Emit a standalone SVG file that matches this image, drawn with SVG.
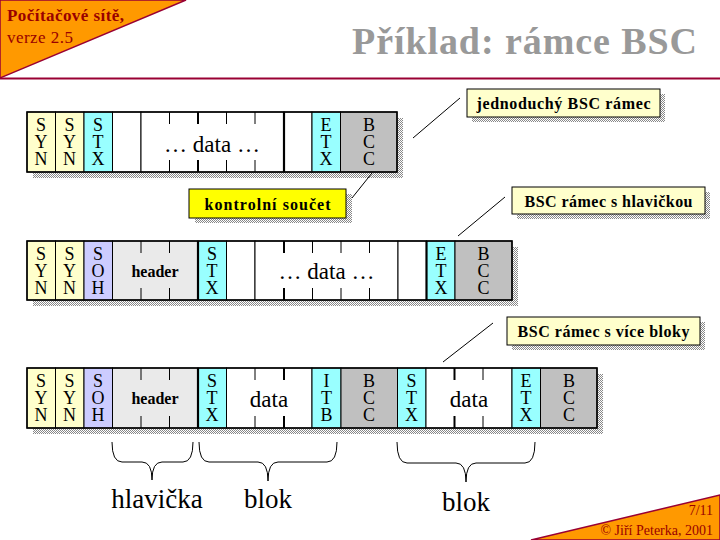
<svg xmlns="http://www.w3.org/2000/svg" width="720" height="540" viewBox="0 0 720 540">
<defs>
<pattern id="dither" width="2" height="2" patternUnits="userSpaceOnUse">
<rect width="2" height="2" fill="#ffffff"/>
<rect width="1" height="1" fill="#888888"/>
<rect x="1" y="1" width="1" height="1" fill="#888888"/>
</pattern>
</defs>
<style>
.cell{stroke:#000;stroke-width:1}
.syn{fill:#ffffcc}
.stx{fill:#99ffff}
.soh{fill:#ccccff}
.hdr{fill:#eaeaea}
.bcc{fill:#c0c0c0}
.wh{fill:#ffffff}
.frame{fill:none;stroke:#000;stroke-width:1.5}
.thick{stroke:#000;stroke-width:2.2}
.tick{stroke:#000;stroke-width:1}
.shadow{fill:url(#dither)}
.lt{font-family:"Liberation Serif","Times New Roman",serif;font-size:18px;fill:#000;text-anchor:middle}
.dt{font-family:"Liberation Serif","Times New Roman",serif;font-size:23px;fill:#000;text-anchor:middle}
.ht{font-family:"Liberation Serif","Times New Roman",serif;font-size:16px;font-weight:bold;fill:#000;text-anchor:middle}
.ct{font-family:"Liberation Serif","Times New Roman",serif;font-size:16px;font-weight:bold;fill:#000;text-anchor:middle}
.cb{fill:#ffffcc;stroke:#000;stroke-width:1}
.bl{font-family:"Liberation Serif","Times New Roman",serif;font-size:27px;fill:#000;text-anchor:middle}
.conn{stroke:#000;stroke-width:1;fill:none}
.corner{font-family:"Liberation Serif","Times New Roman",serif;font-size:17px;fill:#990000}
.foot{font-family:"Liberation Serif","Times New Roman",serif;font-size:14px;fill:#990000;text-anchor:end}
</style>
<rect width="720" height="540" fill="#ffffff"/>

<g id="header-corner">
<polygon points="0,0 186,0 0,78" fill="#ff9900" stroke="#990033" stroke-width="1.5"/>
<text class="corner" x="7" y="21" font-weight="bold" textLength="117">Počítačové sítě,</text>
<text class="corner" x="7" y="43" textLength="66">verze 2.5</text>
</g>
<line x1="0" y1="78.5" x2="720" y2="78.5" stroke="#990033" stroke-width="2"/>
<text id="title" x="697" y="54" text-anchor="end" textLength="345" font-family="'Liberation Serif','Times New Roman',serif" font-weight="bold" font-size="38" fill="#999999">Příklad: rámce BSC</text>

<!-- Frame 1 -->
<g id="frame1">
<rect class="shadow" x="33" y="118" width="370" height="60"/>
<rect class="cell syn" x="27" y="112" width="28.5" height="60"/>
<rect class="cell syn" x="55.5" y="112" width="28.5" height="60"/>
<rect class="cell stx" x="84" y="112" width="28.5" height="60"/>
<rect class="cell wh" x="112.5" y="112" width="28.5" height="60"/>
<rect class="cell wh" x="141" y="112" width="143" height="60"/>
<rect class="cell wh" x="284" y="112" width="28" height="60"/>
<rect class="cell stx" x="312" y="112" width="28.5" height="60"/>
<rect class="cell bcc" x="340.5" y="112" width="56.5" height="60"/>
<line class="thick" x1="284" y1="112" x2="284" y2="172"/>
<g class="tick">
<line x1="169.5" y1="112" x2="169.5" y2="124"/><line x1="169.5" y1="160" x2="169.5" y2="172"/>
<line x1="198" y1="112" x2="198" y2="124" stroke-width="2"/><line x1="198" y1="160" x2="198" y2="172" stroke-width="2"/>
<line x1="226.5" y1="112" x2="226.5" y2="124"/><line x1="226.5" y1="160" x2="226.5" y2="172"/>
<line x1="255" y1="112" x2="255" y2="124"/><line x1="255" y1="160" x2="255" y2="172"/>
</g>
<rect class="frame" x="27" y="112" width="370" height="60"/>
<text class="lt"><tspan x="41" y="131">S</tspan><tspan x="41" y="148">Y</tspan><tspan x="41" y="165">N</tspan></text>
<text class="lt"><tspan x="69.5" y="131">S</tspan><tspan x="69.5" y="148">Y</tspan><tspan x="69.5" y="165">N</tspan></text>
<text class="lt"><tspan x="98" y="131">S</tspan><tspan x="98" y="148">T</tspan><tspan x="98" y="165">X</tspan></text>
<text class="dt" x="212" y="152">… data …</text>
<text class="lt"><tspan x="326" y="131">E</tspan><tspan x="326" y="148">T</tspan><tspan x="326" y="165">X</tspan></text>
<text class="lt"><tspan x="369" y="131">B</tspan><tspan x="369" y="148">C</tspan><tspan x="369" y="165">C</tspan></text>
</g>

<!-- Frame 2 -->
<g id="frame2">
<rect class="shadow" x="33" y="247" width="485" height="59"/>
<rect class="cell syn" x="27" y="241" width="28.5" height="59"/>
<rect class="cell syn" x="55.5" y="241" width="28.5" height="59"/>
<rect class="cell soh" x="84" y="241" width="28.5" height="59"/>
<rect class="cell hdr" x="112.5" y="241" width="85.5" height="59"/>
<rect class="cell stx" x="198" y="241" width="28.5" height="59"/>
<rect class="cell wh" x="226.5" y="241" width="28.5" height="59"/>
<rect class="cell wh" x="255" y="241" width="143" height="59"/>
<rect class="cell wh" x="398" y="241" width="28.5" height="59"/>
<rect class="cell stx" x="426.5" y="241" width="28.5" height="59"/>
<rect class="cell bcc" x="455" y="241" width="57" height="59"/>
<line class="thick" x1="198" y1="241" x2="198" y2="300"/>
<line class="thick" x1="426.5" y1="241" x2="426.5" y2="300"/>
<g class="tick">
<line x1="141" y1="241" x2="141" y2="253"/><line x1="141" y1="288" x2="141" y2="300"/>
<line x1="169.5" y1="241" x2="169.5" y2="253"/><line x1="169.5" y1="288" x2="169.5" y2="300"/>
<line x1="284" y1="241" x2="284" y2="253" stroke-width="2"/><line x1="284" y1="288" x2="284" y2="300" stroke-width="2"/>
<line x1="312.5" y1="241" x2="312.5" y2="253"/><line x1="312.5" y1="288" x2="312.5" y2="300"/>
<line x1="341" y1="241" x2="341" y2="253"/><line x1="341" y1="288" x2="341" y2="300"/>
<line x1="369.5" y1="241" x2="369.5" y2="253"/><line x1="369.5" y1="288" x2="369.5" y2="300"/>
</g>
<rect class="frame" x="27" y="241" width="485" height="59"/>
<text class="lt"><tspan x="41" y="260">S</tspan><tspan x="41" y="277">Y</tspan><tspan x="41" y="294">N</tspan></text>
<text class="lt"><tspan x="69.5" y="260">S</tspan><tspan x="69.5" y="277">Y</tspan><tspan x="69.5" y="294">N</tspan></text>
<text class="lt"><tspan x="98" y="260">S</tspan><tspan x="98" y="277">O</tspan><tspan x="98" y="294">H</tspan></text>
<text class="ht" x="155" y="277">header</text>
<text class="lt"><tspan x="212" y="260">S</tspan><tspan x="212" y="277">T</tspan><tspan x="212" y="294">X</tspan></text>
<text class="dt" x="326.5" y="279">… data …</text>
<text class="lt"><tspan x="441" y="260">E</tspan><tspan x="441" y="277">T</tspan><tspan x="441" y="294">X</tspan></text>
<text class="lt"><tspan x="483.5" y="260">B</tspan><tspan x="483.5" y="277">C</tspan><tspan x="483.5" y="294">C</tspan></text>
</g>

<!-- Frame 3 -->
<g id="frame3">
<rect class="shadow" x="33" y="374" width="570" height="60"/>
<rect class="cell syn" x="27" y="368" width="28.5" height="60"/>
<rect class="cell syn" x="55.5" y="368" width="28.5" height="60"/>
<rect class="cell soh" x="84" y="368" width="28.5" height="60"/>
<rect class="cell hdr" x="112.5" y="368" width="85.5" height="60"/>
<rect class="cell stx" x="198" y="368" width="28.5" height="60"/>
<rect class="cell wh" x="226.5" y="368" width="85.5" height="60"/>
<rect class="cell stx" x="312" y="368" width="29" height="60"/>
<rect class="cell bcc" x="341" y="368" width="56.5" height="60"/>
<rect class="cell stx" x="397.5" y="368" width="28.5" height="60"/>
<rect class="cell wh" x="426" y="368" width="86" height="60"/>
<rect class="cell stx" x="512" y="368" width="28.5" height="60"/>
<rect class="cell bcc" x="540.5" y="368" width="56.5" height="60"/>
<line class="thick" x1="198" y1="368" x2="198" y2="428"/>
<g class="tick">
<line x1="141" y1="368" x2="141" y2="380"/><line x1="141" y1="416" x2="141" y2="428"/>
<line x1="169.5" y1="368" x2="169.5" y2="380"/><line x1="169.5" y1="416" x2="169.5" y2="428"/>
<line x1="255" y1="368" x2="255" y2="380"/><line x1="255" y1="416" x2="255" y2="428"/>
<line x1="284" y1="368" x2="284" y2="380" stroke-width="2"/><line x1="284" y1="416" x2="284" y2="428" stroke-width="2"/>
<line x1="454.5" y1="368" x2="454.5" y2="380" stroke-width="2"/><line x1="454.5" y1="416" x2="454.5" y2="428" stroke-width="2"/>
<line x1="483" y1="368" x2="483" y2="380"/><line x1="483" y1="416" x2="483" y2="428"/>
</g>
<rect class="frame" x="27" y="368" width="570" height="60"/>
<text class="lt"><tspan x="41" y="387">S</tspan><tspan x="41" y="404">Y</tspan><tspan x="41" y="421">N</tspan></text>
<text class="lt"><tspan x="69.5" y="387">S</tspan><tspan x="69.5" y="404">Y</tspan><tspan x="69.5" y="421">N</tspan></text>
<text class="lt"><tspan x="98" y="387">S</tspan><tspan x="98" y="404">O</tspan><tspan x="98" y="421">H</tspan></text>
<text class="ht" x="155" y="404">header</text>
<text class="lt"><tspan x="212" y="387">S</tspan><tspan x="212" y="404">T</tspan><tspan x="212" y="421">X</tspan></text>
<text class="dt" x="269" y="407">data</text>
<text class="lt"><tspan x="326.5" y="387">I</tspan><tspan x="326.5" y="404">T</tspan><tspan x="326.5" y="421">B</tspan></text>
<text class="lt"><tspan x="369" y="387">B</tspan><tspan x="369" y="404">C</tspan><tspan x="369" y="421">C</tspan></text>
<text class="lt"><tspan x="411.5" y="387">S</tspan><tspan x="411.5" y="404">T</tspan><tspan x="411.5" y="421">X</tspan></text>
<text class="dt" x="469" y="407">data</text>
<text class="lt"><tspan x="526" y="387">E</tspan><tspan x="526" y="404">T</tspan><tspan x="526" y="421">X</tspan></text>
<text class="lt"><tspan x="569" y="387">B</tspan><tspan x="569" y="404">C</tspan><tspan x="569" y="421">C</tspan></text>
</g>

<!-- Callouts -->
<g id="callout-simple">
<rect class="shadow" x="472" y="94" width="193" height="28"/>
<rect class="cb" x="467" y="89" width="193" height="28"/>
<text class="ct" x="563.5" y="109" textLength="174">jednoduchý BSC rámec</text>
</g>
<g id="callout-header">
<rect class="shadow" x="517" y="192" width="193" height="27"/>
<rect class="cb" x="512" y="187" width="193" height="27"/>
<text class="ct" x="608.5" y="207" textLength="168">BSC rámec s hlavičkou</text>
</g>
<g id="callout-blocks">
<rect class="shadow" x="512" y="322" width="193" height="28"/>
<rect class="cb" x="507" y="317" width="193" height="28"/>
<text class="ct" x="603.5" y="337" textLength="172">BSC rámec s více bloky</text>
</g>
<g id="callout-checksum">
<rect class="shadow" x="195" y="194" width="157" height="29"/>
<rect x="189" y="189" width="157" height="29" fill="#ffff00" stroke="#000" stroke-width="1"/>
<text class="ct" x="267.5" y="210" textLength="126">kontrolní součet</text>
</g>

<g id="connectors">
<line class="conn" x1="413" y1="138" x2="460" y2="98"/>
<line class="conn" x1="458" y1="236" x2="505" y2="197"/>
<line class="conn" x1="443" y1="362" x2="493" y2="323"/>
<line class="conn" x1="352" y1="198" x2="372" y2="173"/>
</g>

<g id="braces" class="conn">
<path d="M112,442 Q112,462 122,462 L142,462 Q152,462 152,480 Q152,462 162,462 L183,462 Q193,462 193,442"/>
<path d="M199,442 Q199,462 209,462 L258,462 Q268,462 268,481 Q268,462 278,462 L327,462 Q337,462 337,442"/>
<path d="M397,442 Q397,463 407,463 L456,463 Q466,463 466,482 Q466,463 476,463 L525,463 Q535,463 535,442"/>
</g>
<g id="labels">
<text class="bl" x="157" y="508">hlavička</text>
<text class="bl" x="268" y="508">blok</text>
<text class="bl" x="466" y="511">blok</text>
</g>

<g id="footer-corner">
<polygon points="531,540 720,495 720,540" fill="#ff9900" stroke="#990033" stroke-width="1.5"/>
<text class="foot" x="713" y="515">7/11</text>
<text class="foot" x="713" y="535">© Jiří Peterka, 2001</text>
</g>
</svg>
